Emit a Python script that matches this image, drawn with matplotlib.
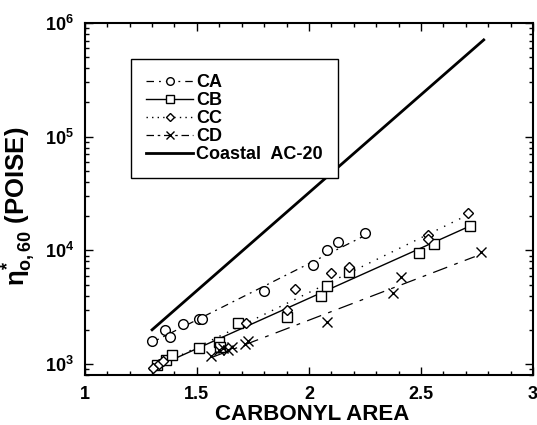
import numpy as np
import matplotlib
matplotlib.use('Agg')
import matplotlib.pyplot as plt
from matplotlib.lines import Line2D

plt.rcParams['font.family'] = ['Liberation Sans', 'DejaVu Sans']
plt.rcParams['font.weight'] = 'bold'
plt.rcParams['mathtext.fontset'] = 'custom'
plt.rcParams['mathtext.rm'] = 'Liberation Sans:bold'
plt.rcParams['mathtext.it'] = 'Liberation Sans:bold'
plt.rcParams['mathtext.bf'] = 'Liberation Sans:bold'

# data
ca_x = [1.30, 1.357, 1.38, 1.44, 1.51, 1.525, 1.80, 2.02, 2.08, 2.13, 2.25]
ca_y = [1600, 1990, 1740, 2230, 2470, 2500, 4350, 7450, 10100, 11900, 14100]

cb_x = [1.32, 1.36, 1.39, 1.51, 1.60, 1.605, 1.685, 1.90, 2.056, 2.082, 2.18, 2.49, 2.56, 2.72]
cb_y = [980, 1080, 1200, 1380, 1550, 1400, 2280, 2610, 3960, 4820, 6400, 9530, 11300, 16400]

cc_x = [1.305, 1.33, 1.35, 1.72, 1.90, 1.94, 2.10, 2.18, 2.53, 2.53, 2.71]
cc_y = [920, 1010, 1060, 2310, 2990, 4540, 6310, 7170, 13600, 12600, 21100]

cd_x = [1.565, 1.60, 1.615, 1.64, 1.655, 1.715, 1.73, 2.08, 2.375, 2.41, 2.77]
cd_y = [1180, 1330, 1370, 1330, 1420, 1500, 1590, 2350, 4240, 5860, 9730]

# fitted lines (end points)
ca_fit_x = [1.30, 2.25]
ca_fit_y = [1550, 13500]
cb_fit_x = [1.29, 2.72]
cb_fit_y = [890, 16400]
cc_fit_x = [1.30, 2.72]
cc_fit_y = [900, 21000]
cd_fit_x = [1.57, 2.74]
cd_fit_y = [1150, 8800]
coastal_x = [1.30, 2.78]
coastal_y = [2000, 710000]

fig = plt.figure(figsize=(5.37, 4.25), dpi=100)
ax = fig.add_axes([0.158, 0.1176, 0.8346, 0.8283])

ca_ls = (0, (6, 4, 1.5, 4))
cb_ls = '-'
cc_ls = (0, (1, 5))
cd_ls = (0, (12, 6, 3, 6))

ax.plot(ca_fit_x, ca_fit_y, color='k', lw=0.9, ls=ca_ls)
ax.plot(cb_fit_x, cb_fit_y, color='k', lw=1.0, ls=cb_ls)
ax.plot(cc_fit_x, cc_fit_y, color='k', lw=1.0, ls=cc_ls)
ax.plot(cd_fit_x, cd_fit_y, color='k', lw=0.9, ls=cd_ls)
ax.plot(coastal_x, coastal_y, color='k', lw=2.0)

ms = 7
ax.plot(ca_x, ca_y, 'o', mfc='white', mec='k', ms=ms, mew=1.0, ls='none')
ax.plot(cb_x, cb_y, 's', mfc='white', mec='k', ms=ms, mew=1.0, ls='none')
ax.plot(cc_x, cc_y, 'D', mfc='white', mec='k', ms=5, mew=1.0, ls='none')
ax.plot(cd_x, cd_y, 'x', color='k', ms=ms, mew=1.0, ls='none')

ax.set_yscale('log')
ax.set_xlim(1, 3)
ax.set_ylim(800, 1e6)
ax.set_xticks([1, 1.5, 2, 2.5, 3])
ax.set_xticklabels(['1', '1.5', '2', '2.5', '3'])
ax.set_xticks(np.arange(1, 3.01, 0.1), minor=True)
ax.set_yticks([1e3, 1e4, 1e5, 1e6])
ax.tick_params(which='both', direction='in', top=True, right=True, width=1)
ax.tick_params(which='major', length=6, labelsize=13, pad=8)
ax.tick_params(which='minor', length=3)
for sp in ax.spines.values():
    sp.set_linewidth(1.5)

ax.set_xlabel('CARBONYL AREA', fontsize=16, fontweight='bold', va='top')
ax.xaxis.set_label_coords(0.508, -0.082)
ax.set_ylabel(r'$\eta^{*}_{o,60}$ (POISE)', fontsize=18.5, fontweight='bold')
ax.yaxis.set_label_coords(-0.105, 0.48)

handles = [
    Line2D([], [], color='k', lw=0.9, ls=ca_ls, marker='o', mfc='white', ms=5.5),
    Line2D([], [], color='k', lw=1.0, ls=cb_ls, marker='s', mfc='white', ms=5.5),
    Line2D([], [], color='k', lw=1.0, ls=(0, (1, 3)), marker='D', mfc='white', ms=4),
    Line2D([], [], color='k', lw=0.9, ls=(0, (6, 3, 2, 3)), marker='x', ms=5.5),
    Line2D([], [], color='k', lw=2.0),
]
labels = ['CA', 'CB', 'CC', 'CD', 'Coastal  AC-20']
leg = ax.legend(handles, labels, loc='upper left', bbox_to_anchor=(0.103, 0.898),
                borderaxespad=0, handlelength=2.6, handletextpad=0.15,
                labelspacing=0.05, borderpad=0.85, fancybox=False,
                framealpha=1, edgecolor='k', prop={'weight': 'bold', 'size': 13})
leg.get_frame().set_linewidth(1.0)

fig.savefig('out.png', dpi=100)
